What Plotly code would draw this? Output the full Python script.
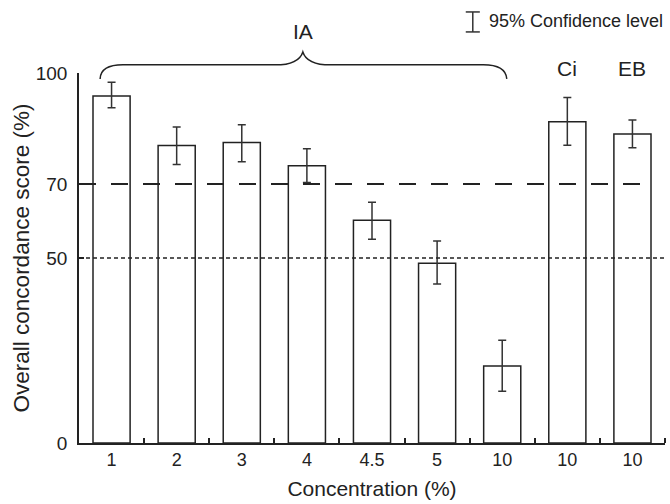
import plotly.graph_objects as go

# ---- data ----
categories = ["1", "2", "3", "4", "4.5", "5", "10", "10", "10"]
scores = [93.8, 80.4, 81.2, 74.9, 60.2, 48.6, 20.8, 86.8, 83.5]
err_plus = [3.7, 5.0, 4.8, 4.6, 4.9, 6.0, 7.0, 6.6, 3.8]
err_minus = [3.2, 5.1, 5.2, 4.5, 5.1, 5.6, 6.8, 6.3, 3.7]
y_ticks = [0, 50, 70, 100]
group_labels = ["IA", "Ci", "EB"]
threshold_high = 70
threshold_low = 50

positions = list(range(1, len(categories) + 1))
FONT = "Liberation Sans, Arial, sans-serif"
INK = "#222222"

fig = go.Figure()
fig.add_trace(go.Bar(
    x=positions, y=scores, width=0.57,
    marker=dict(color="white", line=dict(color=INK, width=1.5)),
    error_y=dict(type="data", symmetric=False, array=err_plus, arrayminus=err_minus,
                 color="#333333", thickness=1.5, width=4),
    showlegend=False,
))

shapes = [
    dict(type="line", xref="x", yref="y", x0=0.5, x1=9.3, y0=threshold_high, y1=threshold_high,
         line=dict(color=INK, width=2, dash="17px,15px"), layer="above"),
    dict(type="line", xref="x", yref="y", x0=0.5, x1=9.5, y0=threshold_low, y1=threshold_low,
         line=dict(color=INK, width=1.5, dash="4px,3px"), layer="above"),
    # brace over IA group
    dict(type="path", xref="paper", yref="paper",
         path="M 0.036,0.984 Q 0.037,1.022 0.075,1.022 L 0.335,1.022 Q 0.375,1.022 0.382,1.057 "
              "Q 0.389,1.022 0.429,1.022 L 0.690,1.022 Q 0.728,1.022 0.730,0.984",
         line=dict(color=INK, width=1.5)),
    # legend symbol
    dict(type="line", xref="paper", yref="paper", x0=0.672, x1=0.672, y0=1.111, y1=1.165,
         line=dict(color="#333333", width=1.5)),
    dict(type="line", xref="paper", yref="paper", x0=0.660, x1=0.684, y0=1.165, y1=1.165,
         line=dict(color="#333333", width=1.5)),
    dict(type="line", xref="paper", yref="paper", x0=0.660, x1=0.684, y0=1.111, y1=1.111,
         line=dict(color="#333333", width=1.5)),
]

annotations = [
    dict(text=group_labels[0], xref="paper", yref="paper", x=0.382, y=1.111,
         xanchor="center", yanchor="middle",
         showarrow=False, font=dict(size=21, color=INK, family=FONT)),
    dict(text=group_labels[1], xref="x", yref="paper", x=8, y=1.012,
         xanchor="center", yanchor="middle",
         showarrow=False, font=dict(size=21, color=INK, family=FONT)),
    dict(text=group_labels[2], xref="x", yref="paper", x=9, y=1.012,
         xanchor="center", yanchor="middle",
         showarrow=False, font=dict(size=21, color=INK, family=FONT)),
    dict(text="95% Confidence level", xref="paper", yref="paper", x=0.697, y=1.140,
         xanchor="left", yanchor="middle", showarrow=False,
         font=dict(size=18, color=INK, family=FONT)),
]

fig.update_layout(
    width=670, height=504, autosize=False,
    margin=dict(l=79, r=5, t=73, b=61, pad=0),
    plot_bgcolor="white", paper_bgcolor="white",
    font=dict(family=FONT, color=INK, size=18),
    shapes=shapes, annotations=annotations,
    bargap=0.43,
)
fig.update_xaxes(
    range=[0.5, 9.5], tickmode="array", tickvals=positions, ticktext=categories,
    ticks="", showgrid=False, zeroline=False,
    showline=True, linecolor=INK, linewidth=1.5,
    tickfont=dict(size=18),
    minor=dict(tickmode="array", tickvals=[p + 0.5 for p in positions], ticks="inside",
               ticklen=5, tickwidth=1.5, tickcolor=INK, showgrid=False),
    title=dict(text="Concentration (%)", font=dict(size=21), standoff=12),
)
fig.update_yaxes(
    range=[0, 100], tickmode="array", tickvals=y_ticks,
    ticks="inside", ticklen=5, tickwidth=1.5, tickcolor=INK,
    showgrid=False, zeroline=False,
    showline=True, linecolor=INK, linewidth=1.5,
    tickfont=dict(size=19), ticklabelstandoff=6,
    title=dict(text="Overall concordance score (%)", font=dict(size=22.5), standoff=0),
)

fig.write_html("out.html")
